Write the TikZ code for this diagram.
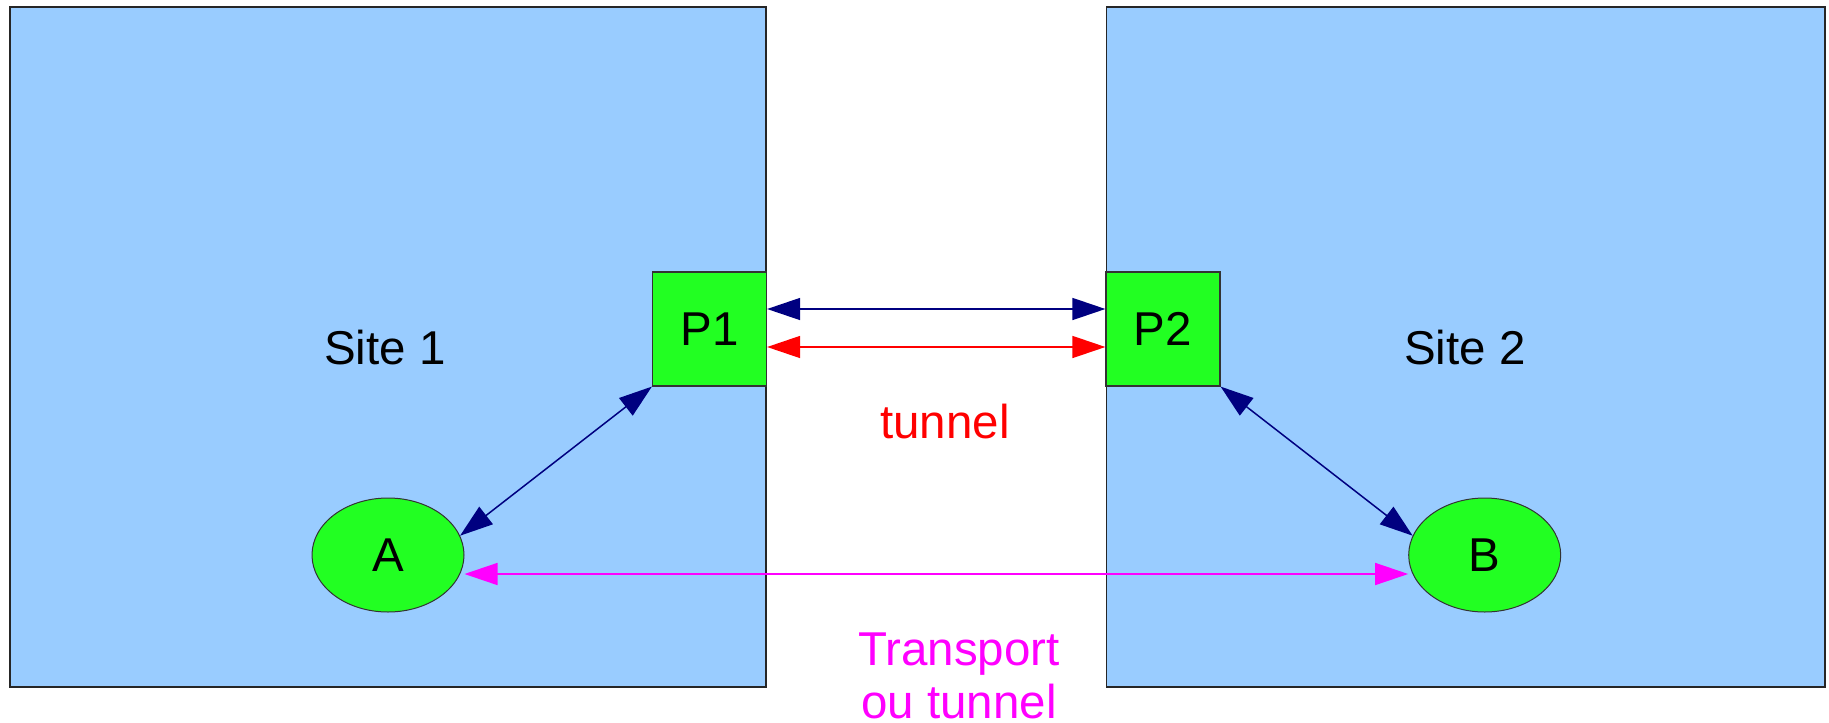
\documentclass[tikz,border=0pt]{standalone}
\usepackage{fontspec}
\setmainfont{Liberation Sans}
\usetikzlibrary{arrows.meta,calc,shapes.geometric}
\definecolor{siteblue}{HTML}{99CCFF}
\definecolor{nodegreen}{HTML}{22FF22}
\definecolor{navyline}{HTML}{000080}
\definecolor{magline}{HTML}{FF00FF}
\definecolor{redline}{HTML}{FF0000}
\tikzset{
  sitebox/.style={draw=black!85, line width=1.5pt, fill=siteblue, inner sep=0pt},
  pbox/.style={draw=black!80, line width=1.2pt, fill=nodegreen, minimum width=114pt, minimum height=114pt, inner sep=0pt, font=\fontsize{47.5}{53}\selectfont},
  host/.style={ellipse, draw=black!80, line width=1pt, fill=nodegreen, minimum width=152pt, minimum height=114pt, inner sep=0pt, font=\fontsize{47.5}{53}\selectfont},
  lbl/.style={font=\fontsize{47.5}{53}\selectfont, inner sep=0pt},
  link/.style={line width=1.5pt, {Triangle[length=33pt,width=22pt]}-{Triangle[length=33pt,width=22pt]}, shorten <=0pt, shorten >=0pt}
}
\begin{document}
\begin{tikzpicture}[x=1pt,y=-1pt]
\useasboundingbox (0,0) rectangle (1829,723);
\node[sitebox, minimum width=756pt, minimum height=680pt] (site1) at (388,347) {};
\node[sitebox, minimum width=718.5pt, minimum height=680pt] (site2) at (1465.75,347) {};
\node[lbl, anchor=base] (s1lbl) at (385,364) {Site 1};
\node[lbl, anchor=base] (s2lbl) at (1465,364) {Site 2};
\node[pbox] (p1) at (709.5,329) {P1};
\node[pbox] (p2) at (1163,329) {P2};
\node[host] (a) at (388,555) {A};
\node[host] (b) at (1484.7,555) {B};
\draw[link, navyline] ($(p1.east)+(0,-20)$) -- ($(p2.west)+(0,-20)$);
\draw[link, redline] ($(p1.east)+(0,18)$) -- ($(p2.west)+(0,18)$);
\draw[link, navyline] (p1.south west) -- (a.15);
\draw[link, navyline] (p2.south east) -- (b.165);
\draw[link, magline] ($(a.east)+(0,19)$) -- ($(b.west)+(0,19)$);
\node[lbl, anchor=base, text=redline] (tun) at (945,438) {tunnel};
\node[lbl, anchor=base, text=magline, align=center] (trans) at (959,718) {Transport\\ou tunnel};
\end{tikzpicture}
\end{document}
